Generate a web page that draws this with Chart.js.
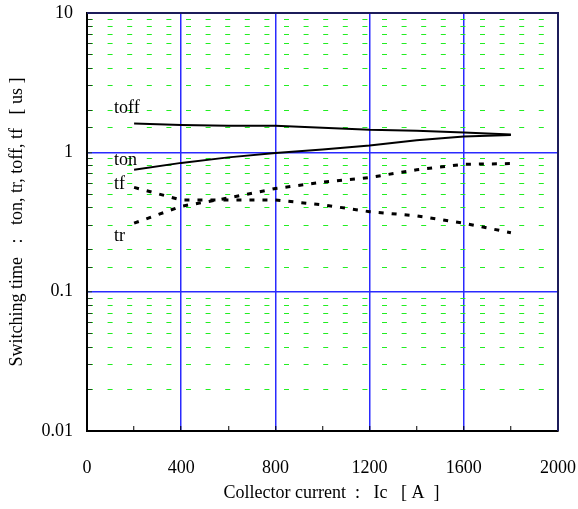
<!DOCTYPE html>
<html>
<head>
<meta charset="utf-8">
<script src="https://cdn.jsdelivr.net/npm/chart.js@4/dist/chart.umd.min.js"></script>
<style>
  html, body { margin: 0; padding: 0; background: #fff; }
  #wrap { width: 578px; height: 509px; }
</style>
</head>
<body>
<div id="wrap"><canvas id="chart"></canvas></div>
<script>
// collector current [A]
const current = [200, 400, 600, 800, 1000, 1200, 1400, 1600, 1800];
// switching times [us]
const toff = [1.61, 1.57, 1.55, 1.55, 1.50, 1.45, 1.43, 1.39, 1.34];
const ton  = [0.75, 0.84, 0.92, 0.99, 1.05, 1.12, 1.22, 1.30, 1.33];
const tr   = [0.31, 0.41, 0.47, 0.55, 0.61, 0.66, 0.75, 0.82, 0.83];
const tf   = [0.56, 0.455, 0.455, 0.455, 0.42, 0.375, 0.35, 0.31, 0.265];

const xTicks = [0, 400, 800, 1200, 1600, 2000];
const yTicks = [0.01, 0.1, 1, 10];

// curve names written next to the curves, in data units
const curveNames = ['toff', 'ton', 'tf', 'tr'];
const nameX = [115, 115, 115, 115];
const nameY = [2.08, 0.88, 0.59, 0.25];

const FONT = { family: '"Liberation Serif", "Times New Roman", serif', size: 18 };
const BLUE = '#2a2aff';

function pts(ys) {
    return current.map((x, i) => ({ x: x, y: ys[i] }));
}

function series(label, ys, dashed) {
    return {
        label: label,
        data: pts(ys),
        borderColor: '#000',
        borderWidth: dashed ? 3 : 2,
        borderDash: dashed ? [5, 8] : [],
        pointRadius: 0,
        fill: false,
        tension: 0
    };
}

// top and right frame lines
const frame = {
    id: 'frame',
    afterDraw(chart) {
        const { ctx, chartArea: a } = chart;
        ctx.save();
        ctx.strokeStyle = '#1c1c5a';
        ctx.lineWidth = 2;
        ctx.beginPath();
        ctx.moveTo(a.left, a.top);
        ctx.lineTo(a.right, a.top);
        ctx.lineTo(a.right, a.bottom);
        ctx.stroke();
        ctx.restore();
    }
};

const curveLabels = {
    id: 'curveLabels',
    afterDatasetsDraw(chart) {
        const { ctx, scales } = chart;
        ctx.save();
        ctx.font = FONT.size + 'px ' + FONT.family;
        ctx.fillStyle = '#000';
        ctx.textAlign = 'left';
        ctx.textBaseline = 'middle';
        curveNames.forEach((name, i) => {
            ctx.fillText(name, scales.x.getPixelForValue(nameX[i]), scales.y.getPixelForValue(nameY[i]));
        });
        ctx.restore();
    }
};

new Chart(document.getElementById('chart'), {
    type: 'line',
    data: {
        datasets: [
            series('toff', toff, false),
            series('ton', ton, false),
            series('tr', tr, true),
            series('tf', tf, true)
        ]
    },
    plugins: [frame, curveLabels],
    options: {
        responsive: true,
        maintainAspectRatio: false,
        animation: false,
        layout: { padding: { top: 13, right: 20, bottom: 0, left: 0 } },
        plugins: {
            legend: { display: false },
            tooltip: { enabled: false }
        },
        scales: {
            x: {
                type: 'linear',
                min: 0,
                max: 2000,
                afterFit: (s) => { s.height = 78; s.paddingLeft = 0; s.paddingRight = 0; },
                ticks: {
                    stepSize: 200,
                    autoSkip: false,
                    maxRotation: 0,
                    padding: 31,
                    color: '#000',
                    font: FONT,
                    callback: (v) => xTicks.includes(v) ? String(v) : ''
                },
                grid: {
                    color: (c) => (c.tick && c.tick.value % 400 === 0 && c.tick.value > 0 && c.tick.value < 2000) ? BLUE : 'rgba(0,0,0,0)',
                    lineWidth: 1.5,
                    tickLength: -5,
                    tickColor: '#000',
                    tickWidth: 1
                },
                border: { color: '#000', width: 2 },
                title: {
                    display: true,
                    text: '    Collector current  :   Ic   [ A  ]',
                    color: '#000',
                    font: FONT,
                    padding: { top: 0, bottom: 5 }
                }
            },
            y: {
                type: 'logarithmic',
                min: 0.01,
                max: 10,
                afterFit: (s) => { s.width = 87; s.paddingTop = 0; s.paddingBottom = 0; },
                ticks: {
                    autoSkip: false,
                    padding: 19,
                    color: '#000',
                    font: FONT,
                    callback: (v) => yTicks.includes(v) ? String(v) : ''
                },
                grid: {
                    color: (c) => (c.tick && c.tick.major) ? BLUE : '#22ee22',
                    lineWidth: (c) => (c.tick && c.tick.major) ? 1.5 : 1,
                    tickLength: -5,
                    tickColor: '#224422',
                    tickWidth: 1
                },
                border: {
                    color: '#000',
                    width: 2,
                    dash: (c) => (c.tick && !c.tick.major) ? [5, 14.6] : []
                },
                title: {
                    display: true,
                    text: 'Switching time   :   ton, tr, toff, tf   [ us ]',
                    color: '#000',
                    font: FONT,
                    padding: { top: 6, bottom: 0 }
                }
            }
        }
    }
});
</script>
</body>
</html>
